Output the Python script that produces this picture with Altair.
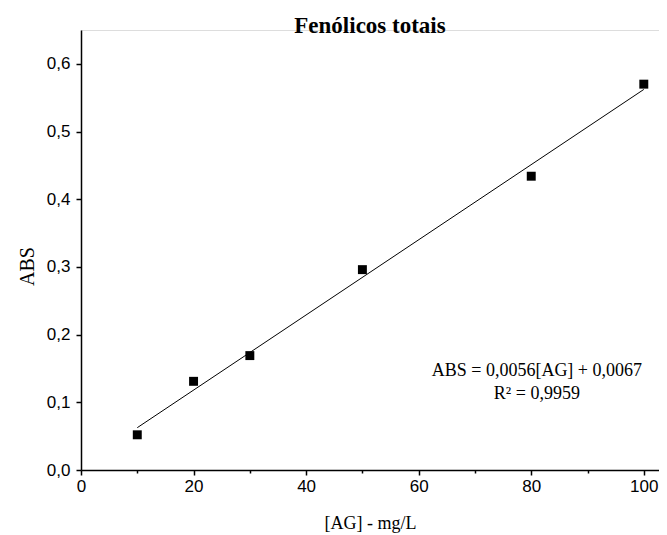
import altair as alt
import pandas as pd

# ---- data ----
conc = [10, 20, 30, 50, 80, 100]            # [AG] mg/L
abs_vals = [0.052, 0.131, 0.169, 0.296, 0.434, 0.570]
x_tick_values = [0, 10, 20, 30, 40, 50, 60, 70, 80, 90, 100]
y_tick_values = [0.0, 0.05, 0.1, 0.15, 0.2, 0.25, 0.3, 0.35, 0.4, 0.45, 0.5, 0.55, 0.6]
chart_title = "Fenólicos totais"
x_title = "[AG] - mg/L"
y_title = "ABS"
equation_lines = ["ABS = 0,0056[AG] + 0,0067", "R² = 0,9959"]
equation_pos = [81, 0.146]

df = pd.DataFrame({"x": conc, "y": abs_vals})

W, H = 578, 440
x_scale = alt.Scale(domain=[0, 102.7], nice=False, zero=False)
y_scale = alt.Scale(domain=[0, 0.65], nice=False, zero=False)

x_axis = alt.Axis(
    values=x_tick_values,
    labelExpr="datum.value % 20 === 0 ? format(datum.value, 'd') : ''",
    tickSize={"condition": {"test": "datum.value % 20 === 0", "value": 5}, "value": 3},
    grid=False, domainColor="black", tickColor="black", domainWidth=1.5, tickWidth=1.5,
    labelFont="Liberation Sans", labelFontSize=17, labelColor="black", labelPadding=3,
    labelFlush=False,
    title=x_title, titleFont="Liberation Serif", titleFontWeight="normal",
    titleFontSize=18, titleColor="black", titlePadding=20,
)
y_axis = alt.Axis(
    values=y_tick_values,
    labelExpr="round(datum.value*100) % 10 === 0 ? replace(format(datum.value, '.1f'), '.', ',') : ''",
    tickSize={"condition": {"test": "round(datum.value*100) % 10 === 0", "value": 5}, "value": 3},
    grid=False, domainColor="black", tickColor="black", domainWidth=1.5, tickWidth=1.5,
    labelFont="Liberation Sans", labelFontSize=17, labelColor="black", labelPadding=6,
    labelFlush=False,
    title=y_title, titleFont="Liberation Serif", titleFontWeight="normal",
    titleFontSize=20, titleColor="black",
    titleX=-54, titleY=236, titleAngle=270, titleAlign="center", titleBaseline="middle",
)

base = alt.Chart(df)

points = base.mark_square(size=80, color="black", opacity=1).encode(
    x=alt.X("x:Q", scale=x_scale, axis=x_axis),
    y=alt.Y("y:Q", scale=y_scale, axis=y_axis),
)

fit = base.transform_regression("x", "y", extent=[10, 100]).mark_line(
    color="black", strokeWidth=1
).encode(x="x:Q", y="y:Q")

eq_df = pd.DataFrame({"x": [equation_pos[0]], "y": [equation_pos[1]], "t": [equation_lines]})
equation = alt.Chart(eq_df).mark_text(
    font="Liberation Serif", fontSize=18, color="black", align="center",
    baseline="middle", lineHeight=23,
).encode(x="x:Q", y="y:Q", text="t")

title = alt.Chart(pd.DataFrame({"t": [chart_title]})).mark_text(
    font="Liberation Serif", fontSize=23, fontWeight="bold", color="black",
    align="center", baseline="alphabetic",
).encode(x=alt.value(W / 2), y=alt.value(3), text="t:N")

chart = alt.layer(points, fit, equation, title).properties(
    width=W, height=H,
    autosize=alt.AutoSizeParams(type="none"),
    padding={"left": 73, "top": 22, "right": 0, "bottom": 64},
).configure_view(stroke=None).configure(background="white")

chart.save("out.html", embed_options={"renderer": "svg", "actions": False})
